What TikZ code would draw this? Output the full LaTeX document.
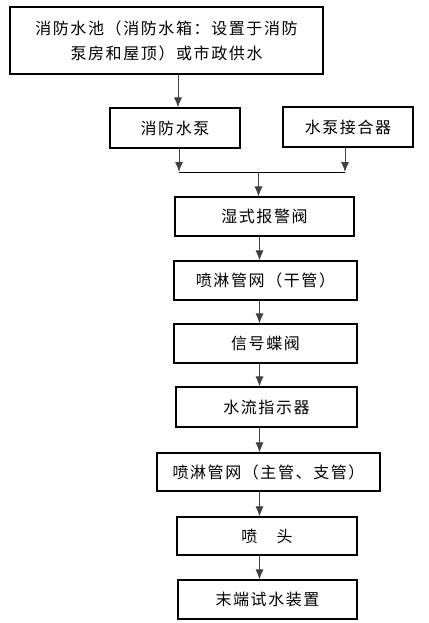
\documentclass[tikz,border=0pt]{standalone}
\usepackage{fontspec}
\setmainfont{Noto Sans CJK SC}[LetterSpace=10]
\usetikzlibrary{arrows.meta}
\begin{document}
\begin{tikzpicture}[x=1pt,y=-1pt,
  box/.style={draw=black,line width=1.1pt,inner sep=0pt,align=center,font=\fontsize{16}{25}\selectfont},
  arr/.style={draw=black!75,line width=0.9pt,-{Latex[length=10pt,width=8pt]}},
  ln/.style={draw=black,line width=0.9pt}]
\useasboundingbox (0,0) rectangle (428,623);
\node[box,minimum width=313pt,minimum height=67pt] (src) at (166.5,40.5) {消防水池（消防水箱：设置于消防\\泵房和屋顶）或市政供水};
\node[box,minimum width=130pt,minimum height=40pt] (pump) at (175,128) {消防水泵};
\node[box,minimum width=130pt,minimum height=40pt] (adp) at (348,127) {水泵接合器};
\node[box,minimum width=179pt,minimum height=39pt] (alarm) at (264.5,216.5) {湿式报警阀};
\node[box,minimum width=183pt,minimum height=39pt] (main) at (265.5,280.5) {喷淋管网（干管）};
\node[box,minimum width=183pt,minimum height=39pt] (valve) at (265.5,343.5) {信号蝶阀};
\node[box,minimum width=181pt,minimum height=40pt] (flow) at (266.5,407) {水流指示器};
\node[box,minimum width=223pt,minimum height=38pt] (branch) at (268.5,472) {喷淋管网（主管、支管）};
\node[box,minimum width=180pt,minimum height=38pt] (head) at (267,536) {喷\hspace{1.2em}头};
\node[box,minimum width=179pt,minimum height=39pt] (test) at (267.5,599.5) {末端试水装置};
\coordinate (xa) at (178,0);
\coordinate (jl) at (179,172);
\coordinate (jr) at (345,172);
\coordinate (jm) at (258.5,172);
\coordinate (sp) at (259.5,0);
\draw[arr] (src.south -| xa) -- (pump.north -| xa);
\draw[arr] (pump.south -| jl) -- (jl);
\draw[arr] (adp.south -| jr) -- (jr);
\draw[ln] (jl) -- (jr);
\draw[arr] (jm) -- (alarm.north -| jm);
\draw[arr] (alarm.south -| sp) -- (main.north -| sp);
\draw[arr] (main.south -| sp) -- (valve.north -| sp);
\draw[arr] (valve.south -| sp) -- (flow.north -| sp);
\draw[arr] (flow.south -| sp) -- (branch.north -| sp);
\draw[arr] (branch.south -| sp) -- (head.north -| sp);
\draw[arr] (head.south -| sp) -- (test.north -| sp);
\end{tikzpicture}
\end{document}
